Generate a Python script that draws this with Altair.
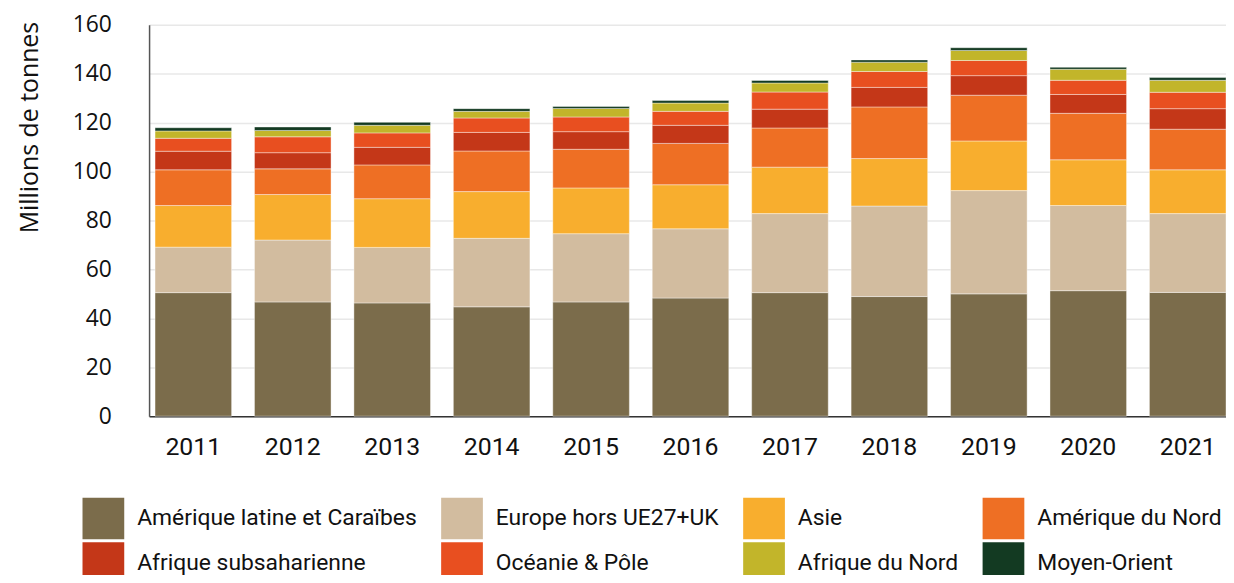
import altair as alt
import pandas as pd

years = ["2011", "2012", "2013", "2014", "2015", "2016", "2017", "2018", "2019", "2020", "2021"]
series_names = [
    "Amérique latine et Caraïbes",
    "Europe hors UE27+UK",
    "Asie",
    "Amérique du Nord",
    "Afrique subsaharienne",
    "Océanie & Pôle",
    "Afrique du Nord",
    "Moyen-Orient",
]
amerique_latine = [50.5, 46.7, 46.3, 44.7, 46.7, 48.3, 50.5, 48.9, 50.0, 51.3, 50.6]
europe_hors_ue = [18.6, 25.3, 22.7, 28.0, 27.9, 28.3, 32.3, 37.0, 42.2, 34.8, 32.2]
asie = [17.0, 18.6, 19.9, 19.1, 18.7, 18.0, 19.0, 19.4, 20.3, 18.7, 17.9]
amerique_nord = [14.6, 10.5, 13.8, 16.6, 15.8, 16.9, 16.0, 21.1, 18.7, 19.0, 16.6]
afrique_sub = [7.6, 6.6, 7.2, 7.6, 7.2, 7.4, 7.7, 8.0, 8.0, 7.7, 8.4]
oceanie = [5.3, 6.5, 5.9, 5.9, 6.0, 5.7, 7.0, 6.5, 6.2, 5.8, 6.7]
afrique_nord = [3.0, 2.6, 3.1, 2.7, 3.5, 3.4, 3.7, 3.8, 4.1, 4.5, 4.9]
moyen_orient = [1.3, 1.4, 1.2, 1.1, 0.8, 1.0, 1.0, 0.9, 1.1, 0.8, 1.1]
colors = ["#7B6C4B", "#D2BC9F", "#F8AE2E", "#EE6F24", "#C43718", "#E84F20", "#C2B52A", "#133A22"]

all_series = [amerique_latine, europe_hors_ue, asie, amerique_nord,
              afrique_sub, oceanie, afrique_nord, moyen_orient]
rows = []
for i, (name, vals) in enumerate(zip(series_names, all_series)):
    for y, v in zip(years, vals):
        rows.append({"annee": y, "region": name, "valeur": v, "idx": i})
df = pd.DataFrame(rows)

chart = alt.Chart(df).mark_bar(stroke="white", strokeWidth=0.8, strokeOpacity=0.5).encode(
    x=alt.X("annee:N", sort=years,
            scale=alt.Scale(paddingInner=0.23, paddingOuter=0.03, align=1),
            axis=alt.Axis(title=None, labelAngle=0, ticks=False, domain=True,
                          domainColor="#333333", domainWidth=1.5,
                          labelFont="Roboto", labelFontSize=25, labelColor="#111111",
                          labelPadding=19, grid=False)),
    y=alt.Y("valeur:Q", stack="zero",
            scale=alt.Scale(domain=[0, 160], nice=False),
            axis=alt.Axis(values=[0, 20, 40, 60, 80, 100, 120, 140, 160],
                          title="Millions de tonnes", ticks=False,
                          domain=True, domainColor="#555555", domainWidth=1.5,
                          gridColor="#E8E8E8", gridWidth=1.5,
                          labelFont="Open Sans", labelFontSize=23, labelColor="#111111",
                          labelPadding=38,
                          titleFont="Open Sans", titleFontSize=25, titleFontWeight="normal",
                          titleColor="#111111", titleAngle=270, titleAlign="center",
                          titleBaseline="middle", titleX=-120, titleY=103)),
    color=alt.Color("region:N", sort=series_names,
                    scale=alt.Scale(domain=series_names, range=colors),
                    legend=alt.Legend(title=None, orient="none", legendX=-67, legendY=476,
                                      direction="horizontal",
                                      columns=4, symbolType="square", symbolSize=1764,
                                      symbolStrokeWidth=0, labelFont="Roboto",
                                      labelFontSize=23, labelColor="#111111",
                                      labelOffset=13, rowPadding=3, columnPadding=24,
                                      labelLimit=400)),
    order=alt.Order("idx:Q", sort="ascending"),
).properties(
    width=1084, height=394,
    autosize=alt.AutoSizeParams(type="none"),
    padding={"left": 142, "top": 15, "right": 0, "bottom": 158},
).configure_view(stroke=None)

chart.save("out.html", embed_options={"renderer": "svg", "actions": False})
